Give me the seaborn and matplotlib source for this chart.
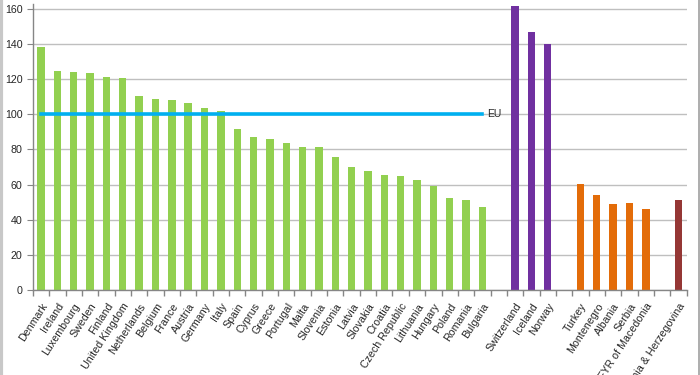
import numpy as np
import pandas as pd
import matplotlib
matplotlib.use("Agg")
import matplotlib.pyplot as plt
import seaborn as sns
from matplotlib.lines import Line2D

# Data (EU = 100)
eu_countries = ['Denmark', 'Ireland', 'Luxembourg', 'Sweden', 'Finland', 'United Kingdom',
                'Netherlands', 'Belgium', 'France', 'Austria', 'Germany', 'Italy', 'Spain',
                'Cyprus', 'Greece', 'Portugal', 'Malta', 'Slovenia', 'Estonia', 'Latvia',
                'Slovakia', 'Croatia', 'Czech Republic', 'Lithuania', 'Hungary', 'Poland',
                'Romania', 'Bulgaria']
eu_values = [138.2, 124.4, 124.0, 123.5, 121.2, 120.5, 110.4, 108.9, 108.0, 106.4, 103.6,
             102.0, 91.3, 87.3, 85.8, 83.9, 81.3, 81.1, 75.6, 70.2, 67.6, 65.3, 64.9, 62.8,
             59.3, 52.4, 51.3, 47.5]
efta_countries = ['Switzerland', 'Iceland', 'Norway']
efta_values = [161.5, 146.8, 139.8]
cand_countries = ['Turkey', 'Montenegro', 'Albania', 'Serbia', 'FYR of Macedonia']
cand_values = [60.2, 54.0, 48.9, 49.4, 46.2]
other_countries = ['Bosnia & Herzegovina']
other_values = [51.1]
eu_average = 100

group_colors = {'EU': '#92D050', 'EFTA': '#7030A0', 'Candidates': '#E36C09', 'Other': '#953735'}

df = pd.concat([
    pd.DataFrame({'country': eu_countries, 'value': eu_values, 'group': 'EU'}),
    pd.DataFrame({'country': efta_countries, 'value': efta_values, 'group': 'EFTA'}),
    pd.DataFrame({'country': cand_countries, 'value': cand_values, 'group': 'Candidates'}),
    pd.DataFrame({'country': other_countries, 'value': other_values, 'group': 'Other'}),
])

# empty slots between the groups
order = eu_countries + ['_gap1'] + efta_countries + ['_gap2'] + cand_countries + ['_gap3'] + other_countries
tick_labels = [c if not c.startswith('_gap') else '' for c in order]

plt.rcParams['font.family'] = ['Liberation Sans', 'DejaVu Sans']
fig, ax = plt.subplots(figsize=(7, 3.75), dpi=100)
fig.subplots_adjust(left=0.047, right=0.981, bottom=0.226, top=0.989)

sns.barplot(data=df, x='country', y='value', hue='group', order=order,
            palette=group_colors, dodge=False, width=0.45, legend=False,
            saturation=1, ax=ax)

# EU reference line across the EU countries
eu_pos = [order.index(c) for c in eu_countries]
ax.plot(eu_pos, [eu_average] * len(eu_pos), color='#00B0F0', lw=2.6, zorder=3)
ax.text(eu_pos[-1] + 0.3, eu_average, 'EU', fontsize=7.5, va='center', ha='left', color='#262626')

ax.set_xlim(-0.5, len(order) - 0.5)
ax.set_ylim(0, 162.5)
ax.set_yticks(np.arange(0, 161, 20))
ax.yaxis.grid(True, color='#BFBFBF', lw=1)
ax.set_axisbelow(True)
ax.set_xlabel('')
ax.set_ylabel('')

ax.set_xticks(range(len(order)))
ax.set_xticklabels(tick_labels, rotation=57, ha='right', va='top', rotation_mode='anchor',
                   fontsize=7.7, color='#262626')
ax.tick_params(axis='x', which='major', length=0, pad=8)
ax.set_xticks(np.arange(-0.5, len(order), 1), minor=True)
ax.tick_params(axis='x', which='minor', length=4, color='#868686', width=1)
ax.tick_params(axis='y', length=4, color='#868686', labelsize=7.7, labelcolor='#262626')

for side in ['top', 'right']:
    ax.spines[side].set_visible(False)
for side in ['left', 'bottom']:
    ax.spines[side].set_color('#868686')
    ax.spines[side].set_linewidth(1)

# light frame on the sides of the picture
fig.add_artist(Line2D([0.002, 0.002], [0, 1], color='#C8C8C8', lw=3, transform=fig.transFigure))
fig.add_artist(Line2D([0.998, 0.998], [0, 1], color='#A0A0A0', lw=1.2, transform=fig.transFigure))

fig.savefig('out.png', dpi=100)
